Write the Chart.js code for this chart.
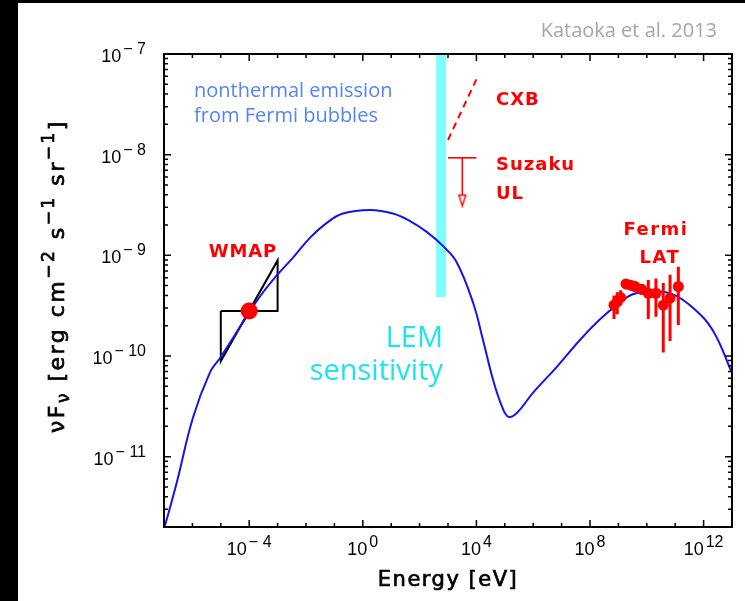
<!DOCTYPE html>
<html>
<head>
<meta charset="utf-8">
<script src="https://cdn.jsdelivr.net/npm/chart.js@4.4.0/dist/chart.umd.min.js"></script>
<style>
  html, body { margin: 0; padding: 0; background: #fff; }
</style>
</head>
<body>
<canvas id="sedChart" width="745" height="601"></canvas>
<script>
// axis ranges (eV, erg cm-2 s-1 sr-1)
const xMin = 1e-7, xMax = 1e13;
const yMin = 2e-12, yMax = 1e-7;
const xTickExps = [-4, 0, 4, 8, 12];
const yTickExps = [-11, -10, -9, -8, -7];

// synchrotron + IC model curve
const modelEnergy = [1.0e-7, 2.8e-7, 1.05e-6, 4.2e-6, 9.3e-6, 6.0e-5, 2.4e-4, 9.3e-4, 3.5e-3, 1.4e-2,
  5.4e-2, 0.2, 1.8, 11.5, 46, 178, 660, 2.0e3, 7.6e3, 1.7e4,
  3.9e4, 7.8e4, 1.3e5, 2.6e5, 9.8e5, 6.8e6, 4.5e7, 2.2e8, 8.7e8, 3.2e9,
  1.7e10, 8.3e10, 4.3e11, 2.1e12, 1.0e13];
const modelFlux = [1.9e-12, 5.5e-12, 2.45e-11, 6.9e-11, 9.5e-11, 2.15e-10, 3.9e-10, 6.3e-10, 9.5e-10, 1.5e-9,
  2.1e-9, 2.6e-9, 2.82e-9, 2.6e-9, 2.19e-9, 1.71e-9, 1.24e-9, 8.6e-10, 3.4e-10, 1.45e-10,
  5.75e-11, 3.2e-11, 2.5e-11, 2.7e-11, 4.3e-11, 7.8e-11, 1.45e-10, 2.3e-10, 3.2e-10, 4.1e-10,
  4.4e-10, 4.1e-10, 3.0e-10, 1.8e-10, 6.8e-11];

// WMAP haze point and its bowtie
const wmapEnergy = [1.0e-4];
const wmapFlux = [2.8e-10];
const bowtieEnergy = [1e-5, 1e-5, 1e-3, 1e-3, 1e-5];
const bowtieFlux = [2.8e-10, 8.9e-11, 8.9e-10, 2.8e-10, 2.8e-10];

// Fermi-LAT spectrum of the bubbles
const fermiEnergy = [7.0e8, 9.1e8, 1.2e9, 1.85e9, 2.7e9, 3.85e9, 6.6e9, 1.13e10, 2.1e10, 3.8e10, 6.6e10, 1.29e11];
const fermiFlux = [3.2e-10, 3.45e-10, 3.8e-10, 5.2e-10, 5.05e-10, 4.9e-10, 4.6e-10, 4.2e-10, 4.2e-10, 3.2e-10, 3.75e-10, 4.9e-10];
const fermiLow = [2.33e-10, 2.6e-10, 3.2e-10, 4.6e-10, 4.5e-10, 4.35e-10, 4.05e-10, 2.33e-10, 2.45e-10, 1.08e-10, 1.41e-10, 2.03e-10];
const fermiHigh = [4.0e-10, 4.3e-10, 4.5e-10, 5.8e-10, 5.6e-10, 5.5e-10, 5.2e-10, 5.7e-10, 5.9e-10, 5.3e-10, 6.4e-10, 7.7e-10];

// X-ray: CXB and Suzaku upper limit
const cxbEnergy = [1.0e3, 1.0e4];
const cxbFlux = [1.4e-8, 5.6e-8];
const suzakuEnergy = [1.0e3, 1.0e4];
const suzakuUL = 9.3e-9;
const suzakuArrowEnergy = 3.2e3;
const suzakuArrowFlux = 3.5e-9;

// LEM sensitivity bar
const lemEnergy = 570;
const lemFlux = [3.85e-10, 1e-7];

const notes = [
  { text: 'WMAP', e: 6.0e-5, f: 9.6e-10, align: 'center', color: '#ff0000', font: 'bold 18px "DejaVu Sans"', sp: '0.8px' },
  { text: 'CXB', e: 4.9e4, f: 3.1e-8, align: 'left', color: '#ff0000', font: 'bold 18px "DejaVu Sans"', sp: '1px' },
  { text: 'Suzaku', e: 4.9e4, f: 7.05e-9, align: 'left', color: '#ff0000', font: 'bold 18px "DejaVu Sans"', sp: '1px' },
  { text: 'UL', e: 4.9e4, f: 3.63e-9, align: 'left', color: '#ff0000', font: 'bold 18px "DejaVu Sans"', sp: '1px' },
  { text: 'Fermi', e: 2.1e10, f: 1.59e-9, align: 'center', color: '#ff0000', font: 'bold 18px "DejaVu Sans"', sp: '1.5px' },
  { text: 'LAT', e: 2.9e10, f: 8.4e-10, align: 'center', color: '#ff0000', font: 'bold 18px "DejaVu Sans"', sp: '1.5px' },
  { text: 'nonthermal emission', e: 1.14e-6, f: 3.74e-8, align: 'left', color: 'rgb(84,132,246)', font: '20px "Open Sans"', sp: '0px' },
  { text: 'from Fermi bubbles', e: 1.14e-6, f: 2.11e-8, align: 'left', color: 'rgb(84,132,246)', font: '20px "Open Sans"', sp: '0px' },
  { text: 'LEM', e: 667, f: 1.23e-10, align: 'right', color: 'rgb(30,228,238)', font: '29px "Open Sans"', sp: '0px' },
  { text: 'sensitivity', e: 667, f: 5.77e-11, align: 'right', color: 'rgb(30,228,238)', font: '29px "Open Sans"', sp: '0px' }
];

const yTitleParts = [['νF', 0], ['ν', -1], [' [erg cm', 0], ['−2', 1], [' s', 0], ['−1', 1], [' sr', 0], ['−1', 1], [']', 0]];
const xTitle = 'Energy [eV]';
const credit = 'Kataoka et al. 2013';

const pts = (xs, ys) => xs.map((x, i) => ({ x: x, y: ys[i] }));

const fermiErrData = [];
fermiEnergy.forEach((e, i) => {
  fermiErrData.push({ x: e, y: fermiLow[i] }, { x: e, y: fermiHigh[i] }, { x: e, y: null });
});

function arrowHead() {
  const c = document.createElement('canvas');
  c.width = 10; c.height = 14;
  const g = c.getContext('2d');
  g.fillStyle = '#fff';
  g.strokeStyle = '#ff0000';
  g.lineWidth = 1.4;
  g.beginPath();
  g.moveTo(1.5, 1.5); g.lineTo(8.5, 1.5); g.lineTo(5, 12.5); g.closePath();
  g.fill(); g.stroke();
  return c;
}

function powerLabel(ctx, exp, px, py, align) {
  const base = '10', sup = String(exp).replace('-', '− ');
  ctx.font = '18px "Liberation Sans"';
  const wb = ctx.measureText(base).width;
  ctx.font = '16px "Liberation Sans"';
  const ws = ctx.measureText(sup).width;
  const total = wb + 2 + ws;
  const x0 = align === 'right' ? px - total : px - total / 2;
  ctx.textAlign = 'left';
  ctx.font = '18px "Liberation Sans"';
  ctx.fillText(base, x0, py);
  ctx.font = '16px "Liberation Sans"';
  ctx.fillText(sup, x0 + wb + 2, py - 8);
}

// text with a light outline so the plain face reads as semi-bold
function heavyText(ctx, t, x, y) {
  ctx.fillText(t, x, y);
  ctx.strokeText(t, x, y);
}

const sedDecor = {
  id: 'sedDecor',
  beforeDraw(chart) {
    const ctx = chart.ctx;
    ctx.save();
    ctx.fillStyle = '#fff';
    ctx.fillRect(0, 0, chart.width, chart.height);
    ctx.fillStyle = '#000';
    ctx.fillRect(0, 0, 18, chart.height);
    ctx.fillRect(0, 0, chart.width, 3);
    ctx.restore();
  },
  afterDraw(chart) {
    const ctx = chart.ctx, a = chart.chartArea;
    const xs = chart.scales.x, ys = chart.scales.y;
    ctx.save();

    // inward ticks on all four sides
    ctx.strokeStyle = '#000';
    ctx.lineWidth = 1.5;
    ctx.beginPath();
    for (let p = -7; p <= 13; p++) {
      const px = xs.getPixelForValue(Number('1e' + p));
      const len = xTickExps.includes(p) ? 7 : 4;
      ctx.moveTo(px, a.bottom); ctx.lineTo(px, a.bottom - len);
      ctx.moveTo(px, a.top); ctx.lineTo(px, a.top + len);
    }
    for (let p = -12; p <= -7; p++) {
      for (let k = 1; k <= 9; k++) {
        const v = Number(k + 'e' + p);
        if (v < yMin || v > yMax) continue;
        const py = ys.getPixelForValue(v);
        const len = k === 1 ? 7 : 4;
        ctx.moveTo(a.left, py); ctx.lineTo(a.left + len, py);
        ctx.moveTo(a.right, py); ctx.lineTo(a.right - len, py);
      }
    }
    ctx.stroke();
    ctx.lineWidth = 2;
    ctx.strokeRect(a.left, a.top, a.right - a.left, a.bottom - a.top);

    // tick labels
    ctx.fillStyle = '#000';
    ctx.textBaseline = 'alphabetic';
    yTickExps.forEach(p => powerLabel(ctx, p, a.left - 18, ys.getPixelForValue(Number('1e' + p)) + 8, 'right'));
    xTickExps.forEach(p => powerLabel(ctx, p, xs.getPixelForValue(Number('1e' + p)), a.bottom + 28, 'center'));

    // axis titles
    ctx.strokeStyle = '#000';
    ctx.lineWidth = 0.7;
    ctx.font = '21px "DejaVu Sans"';
    ctx.letterSpacing = '1.5px';
    ctx.textAlign = 'center';
    heavyText(ctx, xTitle, (a.left + a.right) / 2, a.bottom + 59);

    ctx.save();
    ctx.translate(64, 276);
    ctx.rotate(-Math.PI / 2);
    ctx.letterSpacing = '2.5px';
    const fontFor = lvl => lvl === 0 ? '22px "DejaVu Sans"' : '17px "DejaVu Sans"';
    let total = 0;
    yTitleParts.forEach(([t, lvl]) => { ctx.font = fontFor(lvl); total += ctx.measureText(t).width; });
    let cx = -total / 2;
    ctx.textAlign = 'left';
    yTitleParts.forEach(([t, lvl]) => {
      ctx.font = fontFor(lvl);
      const dy = lvl > 0 ? -10 : (lvl < 0 ? 5 : 0);
      heavyText(ctx, t, cx, dy);
      cx += ctx.measureText(t).width;
    });
    ctx.restore();

    // annotations placed through the data scales
    notes.forEach(n => {
      ctx.font = n.font;
      ctx.fillStyle = n.color;
      ctx.textAlign = n.align;
      ctx.letterSpacing = n.sp;
      ctx.fillText(n.text, xs.getPixelForValue(n.e), ys.getPixelForValue(n.f));
    });
    ctx.letterSpacing = '0px';

    ctx.font = '20px "Open Sans"';
    ctx.fillStyle = '#a6a6a6';
    ctx.textAlign = 'right';
    ctx.fillText(credit, 717, 37);
    ctx.restore();
  }
};

new Chart(document.getElementById('sedChart'), {
  type: 'scatter',
  data: {
    datasets: [
      {
        data: pts(wmapEnergy, wmapFlux),
        order: 0, pointRadius: 8.5, backgroundColor: '#ff0000', borderWidth: 0
      },
      {
        data: pts(fermiEnergy, fermiFlux),
        order: 1, pointRadius: 5.5, backgroundColor: '#ff0000', borderWidth: 0
      },
      {
        data: fermiErrData,
        order: 2, showLine: true, spanGaps: false, pointRadius: 0,
        borderColor: '#ff0000', borderWidth: 3, borderCapStyle: 'butt'
      },
      {
        data: pts(modelEnergy, modelFlux),
        order: 3, showLine: true, pointRadius: 0, tension: 0.4,
        borderColor: 'rgb(20,20,235)', borderWidth: 2
      },
      {
        data: pts(bowtieEnergy, bowtieFlux),
        order: 4, showLine: true, pointRadius: 0, tension: 0,
        borderColor: '#000', borderWidth: 2
      },
      {
        data: pts(cxbEnergy, cxbFlux),
        order: 5, showLine: true, pointRadius: 0,
        borderColor: '#ff0000', borderWidth: 2, borderDash: [7, 5]
      },
      {
        data: pts(suzakuEnergy, [suzakuUL, suzakuUL]),
        order: 5, showLine: true, pointRadius: 0,
        borderColor: '#ff0000', borderWidth: 1.6
      },
      {
        data: pts([suzakuArrowEnergy, suzakuArrowEnergy], [suzakuUL, suzakuArrowFlux]),
        order: 5, showLine: true, pointRadius: 0,
        borderColor: '#ff0000', borderWidth: 1.6
      },
      {
        data: pts([suzakuArrowEnergy], [suzakuArrowFlux]),
        order: 4, pointRadius: 5, pointStyle: arrowHead()
      },
      {
        data: pts([lemEnergy, lemEnergy], lemFlux),
        order: 9, showLine: true, pointRadius: 0,
        borderColor: '#80ffff', borderWidth: 10, borderCapStyle: 'butt'
      }
    ]
  },
  options: {
    responsive: false,
    animation: false,
    layout: { padding: { left: 164, top: 54, right: 13, bottom: 74 } },
    plugins: { legend: { display: false }, tooltip: { enabled: false } },
    scales: {
      x: { type: 'logarithmic', min: xMin, max: xMax, display: false },
      y: { type: 'logarithmic', min: yMin, max: yMax, display: false }
    }
  },
  plugins: [sedDecor]
});
</script>
</body>
</html>
